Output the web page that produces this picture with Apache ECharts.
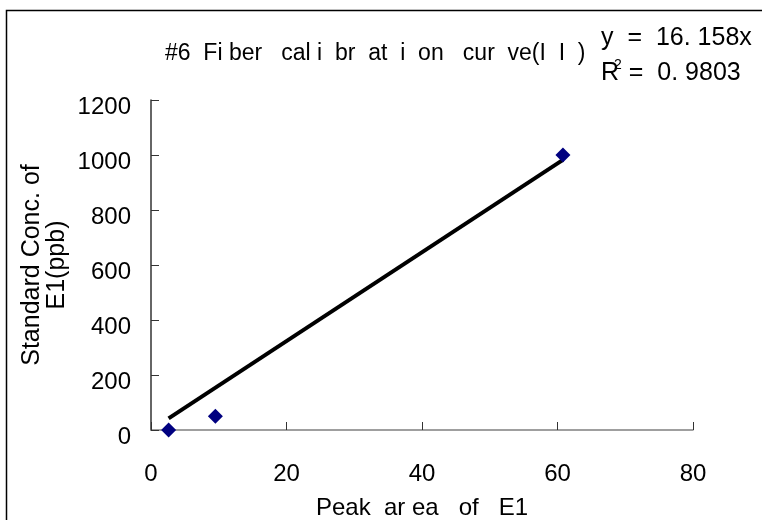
<!DOCTYPE html>
<html><head><meta charset="utf-8">
<script src="https://cdn.jsdelivr.net/npm/echarts@6/dist/echarts.min.js"></script>
<style>html,body{margin:0;padding:0;background:#fff}#c{width:762px;height:520px}</style>
</head><body><div id="c"></div>
<script>
var titleText = '#6  Fi ber   cal i  br  at  i  on   cur  ve(I  I  )';
var xName = 'Peak  ar ea   of   E1';
var yName = 'Standard Conc. of\nE1(ppb)';
var xTicks = [0, 20, 40, 60, 80];
var yTicks = [0, 200, 400, 600, 800, 1000, 1200];
var peakArea = [2.6, 9.5, 60.8];
var stdConc = [0, 50, 1000];
var trendX = [2.6, 60.8];
var trendY = [42, 982];

var pts = peakArea.map(function(x, i){ return [x, stdConc[i]]; });
var trend = trendX.map(function(x, i){ return [x, trendY[i]]; });
var font = '"Liberation Sans", Arial, sans-serif';

var chart = echarts.init(document.getElementById('c'), null, {renderer:'canvas'});
chart.setOption({
  animation: false,
  backgroundColor: '#fff',
  grid: {left: 151, right: 69, top: 100, bottom: 90, outerBoundsMode: 'none', containLabel: false},
  graphic: [
    {type:'rect', left: 4, top: 8, shape:{x:0,y:0,width:800,height:600}, style:{fill:'none', stroke:'#000', lineWidth:1.5}, z:-1},
    {type:'text', left: 165, top: 42, style:{text: titleText, font: '23px ' + font, fill:'#000'}},
    {type:'text', left: 601, top: 26, style:{
      text: '{a|y  =  16. 158x}\n{a|R}{s|2}{a| =  0. 9803}',
      rich: {
        a: {font: '25px ' + font, fill:'#000', lineHeight: 35},
        s: {font: '14px ' + font, fill:'#000', lineHeight: 35, padding:[0,0,16,-5]}
      }
    }}
  ],
  xAxis: {
    type: 'value', min: 0, max: 80, interval: 20,
    name: xName, nameLocation: 'middle', nameGap: 66, nameMoveOverlap: false,
    nameTextStyle: {fontFamily: font, fontSize: 24, color:'#000'},
    axisLine: {show:true, lineStyle:{color:'#808080', width:1.5}},
    axisTick: {show:true, inside:true, length:8, lineStyle:{color:'#333'}},
    splitLine: {show:false},
    axisLabel: {fontFamily: font, fontSize: 24, color:'#000', margin: 32, formatter: function(v){ return String(v); }}
  },
  yAxis: {
    type: 'value', min: 0, max: 1200, interval: 200,
    name: yName, nameLocation: 'middle', nameGap: 81, nameMoveOverlap: false,
    nameTextStyle: {fontFamily: font, fontSize: 25, color:'#000', lineHeight: 25},
    axisLine: {show:true, lineStyle:{color:'#333', width:1.5}},
    axisTick: {show:true, inside:true, length:8, lineStyle:{color:'#333'}},
    splitLine: {show:false},
    axisLabel: {fontFamily: font, fontSize: 24, color:'#000', margin: 20, verticalAlign: 'top', lineHeight: 14, formatter: function(v){ return String(v); }}
  },
  series: [
    {type:'line', data: trend, symbol:'none', lineStyle:{color:'#000', width:4}, z:2},
    {type:'scatter', data: pts, symbol:'diamond', symbolSize: 15, itemStyle:{color:'#000080', opacity:1}, z:3}
  ]
});
</script></body></html>
